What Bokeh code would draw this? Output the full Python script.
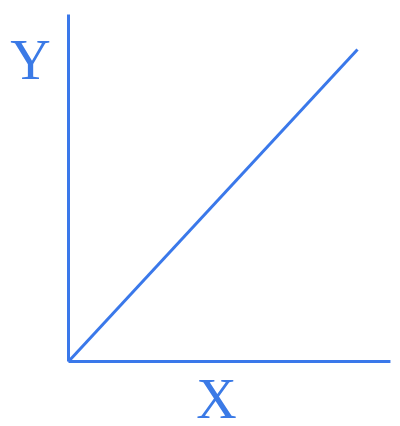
from bokeh.plotting import figure
from bokeh.models import Label, Range1d
from bokeh.embed import file_html
from bokeh.resources import INLINE

# Data (chart units)
x_axis_x = [0, 11.14]
x_axis_y = [0, 0]
y_axis_x = [0, 0]
y_axis_y = [0, 11.12]
line_x = [0, 10]
line_y = [0, 10]
axis_labels = ["X", "Y"]

BLUE = "#3a78ea"
TEXT = "#3b7ae6"

p = figure(width=400, height=426, output_backend="svg", toolbar_location=None,
           x_range=Range1d(-2.353, 11.488), y_range=Range1d(-2.083, 11.571),
           min_border=0)
p.axis.visible = False
p.grid.visible = False
p.outline_line_color = None
p.background_fill_color = "white"
p.border_fill_color = "white"

p.line(x_axis_x, x_axis_y, line_color=BLUE, line_width=3)
p.line(y_axis_x, y_axis_y, line_color=BLUE, line_width=3)
p.line(line_x, line_y, line_color=BLUE, line_width=3)

p.add_layout(Label(x=216, y=28, x_units="screen", y_units="screen", text=axis_labels[0],
                   text_align="center", text_baseline="middle",
                   text_font="Liberation Serif", text_font_size="56px", text_color=TEXT))
p.add_layout(Label(x=30, y=367, x_units="screen", y_units="screen", text=axis_labels[1],
                   text_align="center", text_baseline="middle",
                   text_font="Liberation Serif", text_font_size="56px", text_color=TEXT))

open("out.html", "w").write(file_html(p, INLINE))
